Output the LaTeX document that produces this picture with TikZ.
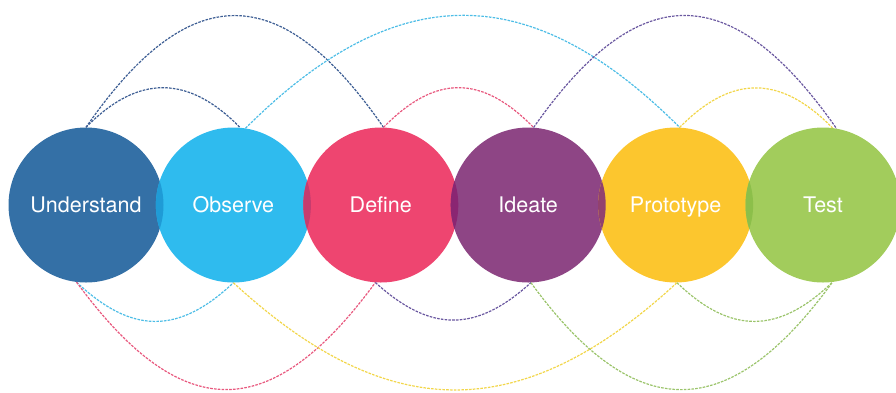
\documentclass[tikz,border=0pt]{standalone}
\usepackage{fontspec}
\setmainfont{TeX Gyre Heros}
\usetikzlibrary{positioning}

\definecolor{cUnd}{HTML}{3470A6}
\definecolor{cObs}{HTML}{2FBBEE}
\definecolor{cDef}{HTML}{EE4570}
\definecolor{cIde}{HTML}{8E4585}
\definecolor{cPro}{HTML}{FCC62E}
\definecolor{cTst}{HTML}{A2CC5C}
% overlaps
\definecolor{xUO}{HTML}{1F9BD6}
\definecolor{xOD}{HTML}{C63C6E}
\definecolor{xDI}{HTML}{8A2672}
\definecolor{xIP}{HTML}{92416E}
\definecolor{xPT}{HTML}{8CBF4A}
% dashed links
\definecolor{lUnd}{HTML}{3D5E94}
\definecolor{lObs}{HTML}{4DBDE6}
\definecolor{lDef}{HTML}{E8587E}
\definecolor{lIde}{HTML}{6A58A0}
\definecolor{lPro}{HTML}{F2D64B}
\definecolor{lTst}{HTML}{9BC46B}

\begin{document}
\begin{tikzpicture}[
    x=1pt, y=-1pt,
    stage/.style={circle, minimum size=155pt, inner sep=0pt, text=white,
        font=\fontsize{21.5}{24}\selectfont, text height=15.5pt, text depth=0pt},
    link/.style={line width=1.2pt, dash pattern=on 2.6pt off 1.2pt},
    node distance=-8pt
]
    \useasboundingbox (0,0) rectangle (896,392);

    \node[stage, fill=cUnd] (und) at (86,205) {Understand};
    \node[stage, fill=cObs, right=of und] (obs) {Observe};
    \node[stage, fill=cDef, right=of obs] (def) {Define};
    \node[stage, fill=cIde, right=of def] (ide) {Ideate};
    \node[stage, fill=cPro, right=of ide] (pro) {Prototype};
    \node[stage, fill=cTst, right=of pro] (tst) {Test};

    % darker lens where two circles meet
    \begin{scope}
        \clip (und) circle[radius=77.5];
        \fill[xUO] (obs) circle[radius=77.5];
    \end{scope}
    \begin{scope}
        \clip (obs) circle[radius=77.5];
        \fill[xOD] (def) circle[radius=77.5];
    \end{scope}
    \begin{scope}
        \clip (def) circle[radius=77.5];
        \fill[xDI] (ide) circle[radius=77.5];
    \end{scope}
    \begin{scope}
        \clip (ide) circle[radius=77.5];
        \fill[xIP] (pro) circle[radius=77.5];
    \end{scope}
    \begin{scope}
        \clip (pro) circle[radius=77.5];
        \fill[xPT] (tst) circle[radius=77.5];
    \end{scope}

    % arcs over the top
    \draw[link, lUnd] (und.90) .. controls +(52,-53) and +(-52,-53) .. (obs.85);
    \draw[link, lUnd] (und.90) .. controls +(103,-149) and +(-103,-149) .. (def.88);
    \draw[link, lObs] (obs.81) .. controls +(150,-150) and +(-150,-150) .. (pro.87);
    \draw[link, lDef] (def.88) .. controls +(52,-53) and +(-52,-53) .. (ide.86);
    \draw[link, lIde] (ide.86) .. controls +(105,-150) and +(-105,-150) .. (tst.80);
    \draw[link, lPro] (pro.87) .. controls +(52,-53) and +(-52,-53) .. (tst.83);

    % arcs underneath
    \draw[link, lObs] (und.263) .. controls +(55,52) and +(-55,52) .. (obs.270);
    \draw[link, lDef] (und.263) .. controls +(105,143) and +(-105,143) .. (def.266);
    \draw[link, lPro] (obs.270) .. controls +(155,143) and +(-155,143) .. (pro.271);
    \draw[link, lIde] (def.266) .. controls +(55,50) and +(-55,50) .. (ide.272);
    \draw[link, lTst] (ide.272) .. controls +(104,143) and +(-104,143) .. (tst.277);
    \draw[link, lTst] (pro.271) .. controls +(54,52) and +(-54,52) .. (tst.277);
\end{tikzpicture}
\end{document}
